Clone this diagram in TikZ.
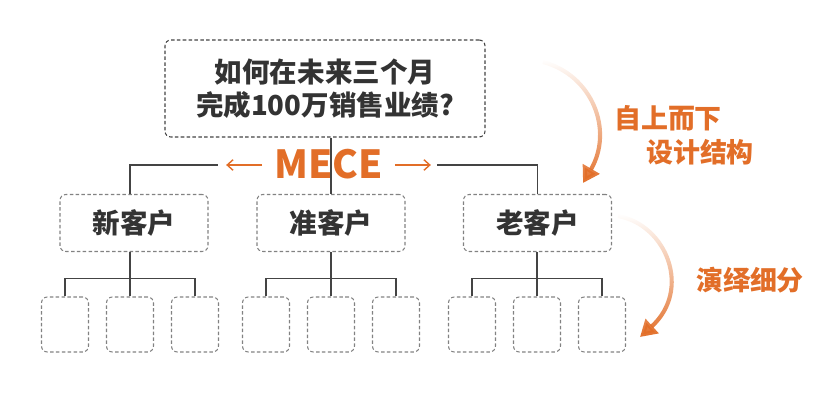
\documentclass[tikz,border=0pt]{standalone}
\usepackage{xcolor}
\usepackage{fontspec}
\usepackage{tikz}
\usetikzlibrary{arrows.meta,fadings}

\newfontfamily\cjk{Noto Sans CJK SC}
\definecolor{meceorange}{RGB}{226,110,40}
\definecolor{inkgray}{RGB}{51,51,51}
\definecolor{linegray}{RGB}{68,68,68}
\definecolor{boxgray}{RGB}{130,130,130}
\tikzfading[name=fadeup, top color=transparent!100, bottom color=transparent!0]

\tikzset{
  dbox/.style={draw=boxgray, dash pattern=on 3pt off 2pt, rounded corners=5pt,
    line width=0.9pt, inner sep=0pt, text=inkgray,
    font=\cjk\bfseries\fontsize{23.5pt}{28pt}\selectfont},
  link/.style={draw=linegray, line width=1.4pt},
  sidetext/.style={anchor=west, text=meceorange,
    font=\cjk\bfseries\fontsize{23pt}{28pt}\selectfont},
  swoop/.style={meceorange, line width=3.5pt, path fading=fadeup,
    -{Triangle[length=14pt,width=16pt]}}
}

\begin{document}
\begin{tikzpicture}[x=0.03cm, y=-0.03cm]
  \useasboundingbox (0,0) rectangle (830,414);

  \node[dbox, draw=linegray, minimum width=9.6cm, minimum height=2.91cm, align=center]
    (goal) at (325,88.5) {如何在未来三个月\\完成100万销售业绩?};

  \node[dbox, minimum width=4.44cm, minimum height=1.71cm] (new) at (134,223) {新客户};
  \node[dbox, minimum width=4.44cm, minimum height=1.71cm] (pre) at (331,223) {准客户};
  \node[dbox, minimum width=4.44cm, minimum height=1.71cm] (old) at (537.5,223) {老客户};

  % leaves under each customer group
  \foreach \p/\c in {new/130, pre/331, old/537} {
    \node[dbox, minimum width=1.41cm, minimum height=1.65cm] (\p1) at (\c-65,324.5) {};
    \node[dbox, minimum width=1.41cm, minimum height=1.65cm] (\p2) at (\c,324.5) {};
    \node[dbox, minimum width=1.41cm, minimum height=1.65cm] (\p3) at (\c+65,324.5) {};
    \path (\p2.north) ++(0,-18) coordinate (\p bar);
    \draw[link] (\p1.north) |- (\p bar) -| (\p3.north);
    \draw[link] (\p bar) -- (\p2.north);
    \draw[link] (\p bar) -- (\p bar |- \p.south);
  }

  % MECE split line
  \node[text=meceorange, font=\cjk\bfseries\fontsize{33pt}{35pt}\selectfont]
    (mece) at (328.5,164) {MECE};
  \coordinate (ml) at (218,165);
  \coordinate (mr) at (437,165);
  \draw[link] (new.north -| 130,0) |- (ml);
  \draw[link] (mr) -| (old.north);
  \draw[link] (goal.south -| pre.north) -- (pre.north);
  \draw[meceorange, line width=1.2pt, -{Straight Barb[length=5pt,width=9pt]}]
    (mece.west |- ml) ++(-8,0) -- ++(-36,0);
  \draw[meceorange, line width=1.2pt, -{Straight Barb[length=5pt,width=9pt]}]
    (mece.east |- mr) ++(8,0) -- ++(36,0);

  \node[sidetext] (down) at (610,118) {自上而下};
  \node[sidetext] (design) at (642,152) {设计结构};
  \node[sidetext] (deduce) at (692,280) {演绎细分};

  \coordinate (a1) at (543,62);
  \coordinate (t1) at (583,183);
  \coordinate (a2) at (618,216);
  \coordinate (t2) at (640,337);
  \draw[swoop] (a1) .. controls (592,75) and (614,130) .. (t1);
  \draw[swoop] (a2) .. controls (667,225) and (692,290) .. (t2);
\end{tikzpicture}
\end{document}
